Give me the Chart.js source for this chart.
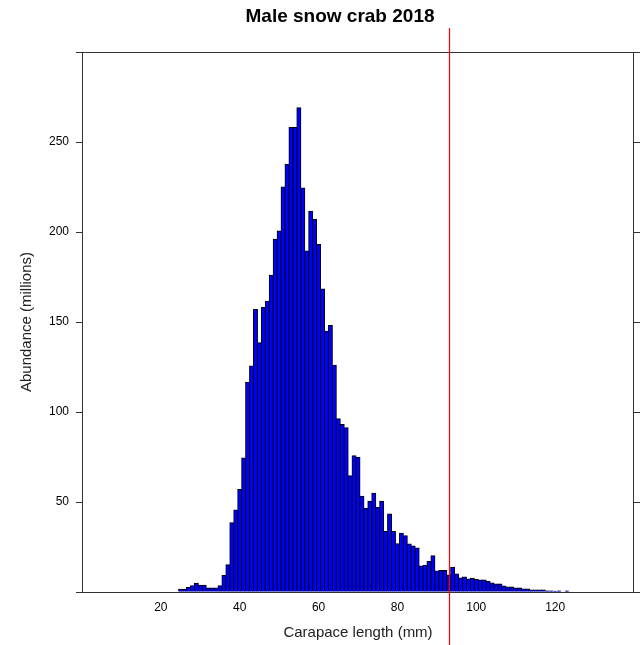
<!DOCTYPE html>
<html>
<head>
<meta charset="utf-8">
<title>Male snow crab 2018</title>
<script src="https://cdn.jsdelivr.net/npm/chart.js@4.4.1/dist/chart.umd.min.js"></script>
<style>
  html, body { margin: 0; padding: 0; background: #fff; }
  #wrap { width: 642px; height: 645px; }
</style>
</head>
<body>
<div id="wrap"><canvas id="chart" width="642" height="645"></canvas></div>
<script>
// carapace length bins (mm, bin centres)
const lengths = [
  25, 26, 27, 28, 29, 30, 31, 32, 33, 34,
  35, 36, 37, 38, 39, 40, 41, 42, 43, 44,
  45, 46, 47, 48, 49, 50, 51, 52, 53, 54,
  55, 56, 57, 58, 59, 60, 61, 62, 63, 64,
  65, 66, 67, 68, 69, 70, 71, 72, 73, 74,
  75, 76, 77, 78, 79, 80, 81, 82, 83, 84,
  85, 86, 87, 88, 89, 90, 91, 92, 93, 94,
  95, 96, 97, 98, 99, 100, 101, 102, 103, 104,
  105, 106, 107, 108, 109, 110, 111, 112, 113, 114,
  115, 116, 117, 118, 119, 120, 121, 122, 123
];
// abundance in millions
const abundance = [
  1.5, 1.5, 2.5, 3.5, 4.8, 3.8, 3.8, 2.2, 2.2, 2.2,
  3.5, 9.2, 15.2, 38.5, 45.5, 57, 74.5, 116.5, 125.5, 157,
  138.5, 158, 161.5, 176, 196, 200.5, 225, 237.5, 258, 258,
  269, 224.5, 189.5, 211.5, 207, 193, 168.3, 144.8, 148, 126,
  96.3, 93, 91.3, 64.6, 75.7, 74.8, 53.2, 46.5, 50.4, 54.8,
  46.9, 50.4, 33.6, 43.4, 33.6, 26.8, 32.6, 31.2, 26.7, 25.6,
  24.4, 14.5, 14.8, 17, 20.2, 11.6, 12, 12, 9.4, 13.8,
  10, 7.8, 8.3, 7.2, 7.6, 7, 6.7, 6.7, 5.8, 5,
  4.4, 4.4, 3.3, 2.8, 2.8, 2.2, 2.2, 1.7, 1.7, 1.1,
  1.1, 1.1, 1.1, 0.6, 0.6, 0.4, 0.5, 0, 0.5
];
const legalSize = 93;
const xTicks = [20, 40, 60, 80, 100, 120];
const yTicks = [0, 50, 100, 150, 200, 250, 300];
const yLabels = [50, 100, 150, 200, 250];

const FONT = "'Liberation Sans', Arial, sans-serif";
Chart.defaults.font.family = FONT;

// panel box, title and the red reference line
const decorations = {
  id: 'decorations',
  afterDatasetsDraw(chart) {
    const {ctx, chartArea: a, scales} = chart;
    ctx.save();
    ctx.strokeStyle = '#333';
    ctx.lineWidth = 1;
    ctx.strokeRect(Math.round(a.left) + 0.5, Math.round(a.top) + 0.5,
      Math.round(a.right - a.left) - 1, Math.round(a.bottom - a.top));

    const x = Math.round(scales.x.getPixelForValue(legalSize)) + 0.5;
    ctx.strokeStyle = '#ff0000';
    ctx.lineWidth = 1.2;
    ctx.beginPath();
    ctx.moveTo(x, 28);
    ctx.lineTo(x, chart.height);
    ctx.stroke();

    ctx.fillStyle = '#000';
    ctx.font = 'bold 19px ' + FONT;
    ctx.textAlign = 'center';
    ctx.textBaseline = 'middle';
    ctx.fillText('Male snow crab 2018', (a.left + a.right) / 2 - 18, 17);
    ctx.restore();
  }
};

new Chart(document.getElementById('chart'), {
  type: 'bar',
  data: {
    datasets: [{
      data: lengths.map((x, i) => ({x: x, y: abundance[i]})),
      backgroundColor: '#0000ff',
      borderColor: '#000',
      borderWidth: 1,
      inflateAmount: 0.5,
      barPercentage: 1,
      categoryPercentage: 1
    }]
  },
  options: {
    responsive: false,
    animation: false,
    layout: { padding: { top: 52, left: 0, right: 0, bottom: 0 } },
    plugins: {
      legend: { display: false },
      title: { display: false },
      tooltip: { enabled: false }
    },
    scales: {
      x: {
        type: 'linear',
        min: 0,
        max: 140,
        offset: false,
        afterFit: s => { s.height = 53; },
        afterBuildTicks: s => { s.ticks = xTicks.map(v => ({value: v})); },
        ticks: { color: '#000', font: { size: 12 }, padding: 8, maxRotation: 0, autoSkip: false },
        grid: { drawOnChartArea: false, drawTicks: false, offset: false, color: '#333' },
        border: { color: '#333' },
        title: {
          display: true, text: 'Carapace length (mm)', color: '#222',
          font: { size: 15 }, padding: { top: 0, bottom: 3 }
        }
      },
      y: {
        min: 0,
        max: 300,
        afterFit: s => { s.width = 82; },
        afterBuildTicks: s => { s.ticks = yTicks.map(v => ({value: v})); },
        ticks: {
          color: '#000', font: { size: 12 }, padding: 7,
          callback: v => yLabels.includes(v) ? v : ''
        },
        grid: { drawOnChartArea: false, tickLength: 6, color: '#333' },
        border: { color: '#333' },
        title: {
          display: true, text: 'Abundance (millions)', color: '#222',
          font: { size: 15 }, padding: { top: 18, bottom: 0 }
        }
      },
      y2: {
        position: 'right',
        min: 0,
        max: 300,
        afterFit: s => { s.width = 8; },
        afterBuildTicks: s => { s.ticks = yTicks.map(v => ({value: v})); },
        ticks: { display: false },
        grid: { drawOnChartArea: false, tickLength: 6, color: '#333' },
        border: { display: false }
      }
    }
  },
  plugins: [decorations]
});
</script>
</body>
</html>
